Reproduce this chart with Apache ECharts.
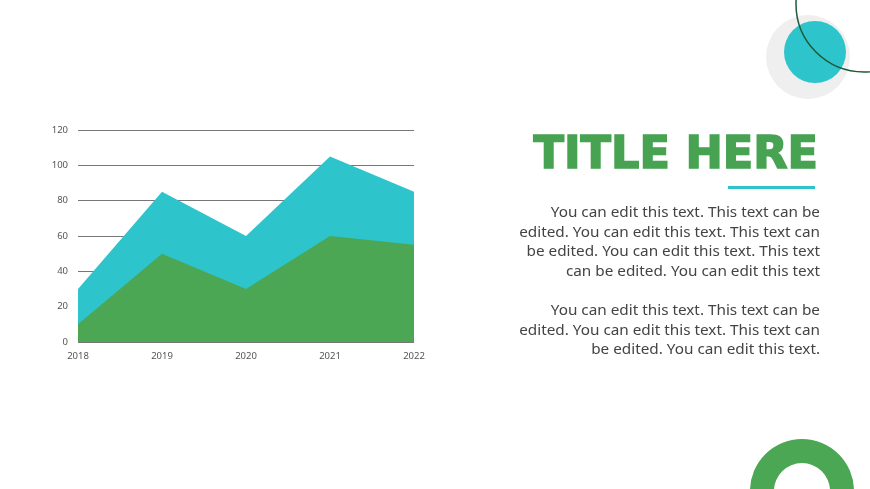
<!DOCTYPE html>
<html>
<head>
<meta charset="utf-8">
<script src="https://cdn.jsdelivr.net/npm/echarts@6/dist/echarts.min.js"></script>
<style>
html,body{margin:0;padding:0;background:#fff;}
#main{width:870px;height:489px;}
</style>
</head>
<body>
<div id="main"></div>
<script>
var years = ['2018', '2019', '2020', '2021', '2022'];
var seriesTop = [30, 85, 60, 105, 85];
var seriesBottom = [10, 50, 30, 60, 55];
var yTicks = [0, 20, 40, 60, 80, 100, 120];
var titleText = 'TITLE HERE';
var para1 = ['You can edit this text. This text can be', 'edited. You can edit this text. This text can', 'be edited. You can edit this text. This text', 'can be edited. You can edit this text'];
var para2 = ['You can edit this text. This text can be', 'edited. You can edit this text. This text can', 'be edited. You can edit this text.'];

var chart = echarts.init(document.getElementById('main'));
var teal = '#2ec4cc', green = '#4ba753';
chart.setOption({
  animation: false,
  grid: {left: 78, right: 456, top: 130, bottom: 147},
  xAxis: {
    type: 'category', data: years, boundaryGap: false,
    axisLine: {show: false}, axisTick: {show: false},
    axisLabel: {color: '#555', fontSize: 9.5, fontFamily: 'Noto Sans', margin: 9}
  },
  yAxis: {
    type: 'value', min: yTicks[0], max: yTicks[yTicks.length - 1], interval: 20,
    axisLine: {show: false}, axisTick: {show: false},
    axisLabel: {color: '#555', fontSize: 9.5, fontFamily: 'Noto Sans', margin: 10},
    splitLine: {lineStyle: {color: '#777', width: 1}}
  },
  series: [
    {type: 'line', data: seriesTop, symbol: 'none', lineStyle: {width: 0}, areaStyle: {color: teal, opacity: 1}, z: 3},
    {type: 'line', data: seriesBottom, symbol: 'none', lineStyle: {width: 0}, areaStyle: {color: green, opacity: 1}, z: 4}
  ],
  graphic: [
    {type: 'circle', shape: {cx: 808, cy: 57, r: 42}, style: {fill: '#efefef'}, z: 1},
    {type: 'circle', shape: {cx: 815, cy: 52, r: 31}, style: {fill: teal}, z: 2},
    {type: 'circle', shape: {cx: 864, cy: 4, r: 68}, style: {fill: 'none', stroke: '#1f5a3a', lineWidth: 1.5}, z: 3},
    {type: 'ring', shape: {cx: 802, cy: 491, r: 52, r0: 28}, style: {fill: green}, z: 2},
    {type: 'text', x: 818, y: 156, style: {text: titleText, fill: '#47a352', stroke: '#47a352', lineWidth: 1.6, font: 'bold 44.6px "DejaVu Sans"', textAlign: 'right', textVerticalAlign: 'middle'}, z: 5},
    {type: 'rect', shape: {x: 728, y: 186, width: 87, height: 3}, style: {fill: teal}, z: 5},
    {type: 'text', x: 820, y: 203, style: {text: para1.join('\n'), fill: '#444', font: '15.3px "Noto Sans"', textAlign: 'right', lineHeight: 19.5}, z: 5},
    {type: 'text', x: 820, y: 301, style: {text: para2.join('\n'), fill: '#444', font: '15.3px "Noto Sans"', textAlign: 'right', lineHeight: 19.5}, z: 5}
  ]
});
</script>
</body>
</html>
